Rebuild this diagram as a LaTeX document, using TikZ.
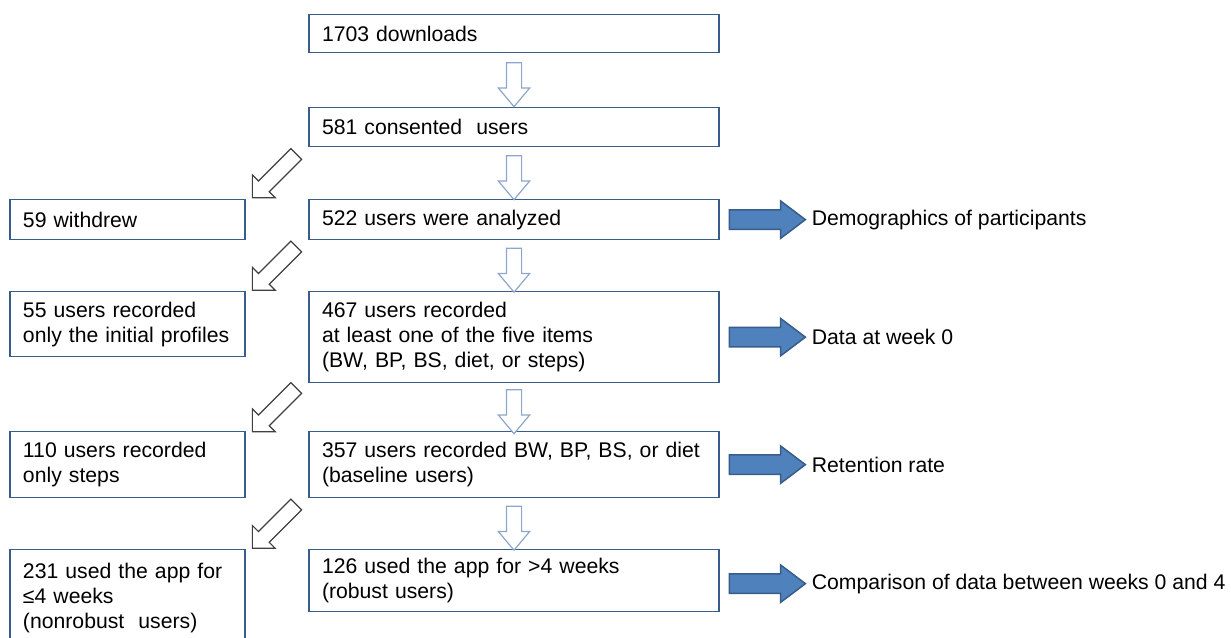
\documentclass[tikz,border=0pt]{standalone}
\usepackage{fontspec}
\setmainfont{Liberation Sans}
\usetikzlibrary{positioning,shapes.arrows,calc}
\definecolor{boxBlue}{RGB}{56,93,138}
\definecolor{arrBlue}{RGB}{79,129,189}
\definecolor{dnLine}{RGB}{141,166,201}
\definecolor{diagLine}{RGB}{64,64,64}

\begin{document}
\begin{tikzpicture}[
  x=1pt, y=-1pt,
  font=\fontsize{21.2}{25}\selectfont,
  node distance = 52pt and 63pt, % y-dist and x-dist
  cbox/.style = {rectangle, draw=boxBlue, line width=1.3pt,
                 text width=384pt, inner xsep=13pt, inner ysep=0pt,
                 align=left, minimum height=#1},
  lbox/.style = {rectangle, draw=boxBlue, line width=1.3pt,
                 text width=209pt, inner xsep=13pt, inner ysep=0pt,
                 align=left, minimum height=#1},
  dnarr/.style = {single arrow, draw=dnLine, fill=white, line width=1.2pt,
                  minimum height=44pt, inner xsep=0pt, inner ysep=7pt,
                  single arrow head extend=8pt, single arrow head indent=0pt,
                  single arrow tip angle=80, rotate=-90},
  dgarr/.style = {single arrow, draw=diagLine, fill=white, line width=1.2pt,
                  minimum height=62pt, inner xsep=0pt, inner ysep=7pt,
                  single arrow head extend=8.5pt, single arrow head indent=0pt,
                  rotate=-135},
  rarr/.style = {single arrow, draw=boxBlue, fill=arrBlue, line width=1.5pt,
                 minimum height=76pt, inner xsep=0pt, inner ysep=9pt,
                 single arrow head extend=9pt, single arrow head indent=0pt,
                 single arrow tip angle=74},
  outtxt/.style = {inner xsep=5pt, anchor=west}
]
\useasboundingbox (0,0) rectangle (1231,637);

% Middle column: main flow
\node[cbox=38pt, anchor=north] (dl) at (514,14) {1703 downloads};
\node[cbox=39pt, below=53.7pt of dl] (cons) {581 consented~ users};
\node[cbox=40pt, below=51.7pt of cons] (anal) {522 users were analyzed};
\node[cbox=91pt, below=50.7pt of anal] (item) {467 users recorded\\at least one of the five items\\(BW, BP, BS, diet, or steps)};
\node[cbox=66pt, below=47.7pt of item] (base) {357 users recorded BW, BP, BS, or diet\\(baseline users)};
\node[cbox=62pt, below=50.7pt of base] (rob) {126 used the app for >4 weeks\\(robust users)};

% Left column: excluded users
\node[lbox=40pt, left=62.7pt of anal.north west, anchor=north east] (wd) {59 withdrew};
\node[lbox=65pt, left=62.7pt of item.north west, anchor=north east] (prof) {55 users recorded\\only the initial profiles};
\node[lbox=66pt, left=62.7pt of base.north west, anchor=north east] (stp) {110 users recorded\\only steps};
\node[lbox=96pt, left=62.7pt of rob.north west, anchor=north east] (nrob) {231 used the app for\\≤4 weeks\\(nonrobust~ users)};

% Down arrows between the main boxes
\node[dnarr] (d1) at ($(dl.south)!0.5!(cons.north)$) {};
\node[dnarr] (d2) at ($(cons.south)!0.5!(anal.north)$) {};
\node[dnarr] (d3) at ($(anal.south)!0.5!(item.north)$) {};
\node[dnarr] (d4) at ($(item.south)!0.5!(base.north)$) {};
\node[dnarr] (d5) at ($(base.south)!0.5!(rob.north)$) {};

% Diagonal arrows to the excluded users
\node[dgarr] (x1) at ($(cons.south west)!0.5!(wd.north east)$) {};
\node[dgarr] (x2) at ($(anal.south west)!0.5!(prof.north east)$) {};
\node[dgarr] (x3) at ($(item.south west)!0.5!(stp.north east)$) {};
\node[dgarr] (x4) at ($(base.south west)!0.5!(nrob.north east)$) {};

% Right column: outcomes
\node[rarr, right=9pt of anal] (r1) {};
\node[rarr, right=9pt of item] (r2) {};
\node[rarr, right=9pt of base] (r3) {};
\node[rarr, right=9pt of rob, yshift=-3pt] (r4) {};
\node[outtxt] (o1) at (r1.east) {Demographics of participants};
\node[outtxt] (o2) at (r2.east) {Data at week 0};
\node[outtxt] (o3) at (r3.east) {Retention rate};
\node[outtxt] (o4) at (r4.east) {Comparison of data between weeks 0 and 4};

\end{tikzpicture}
\end{document}
